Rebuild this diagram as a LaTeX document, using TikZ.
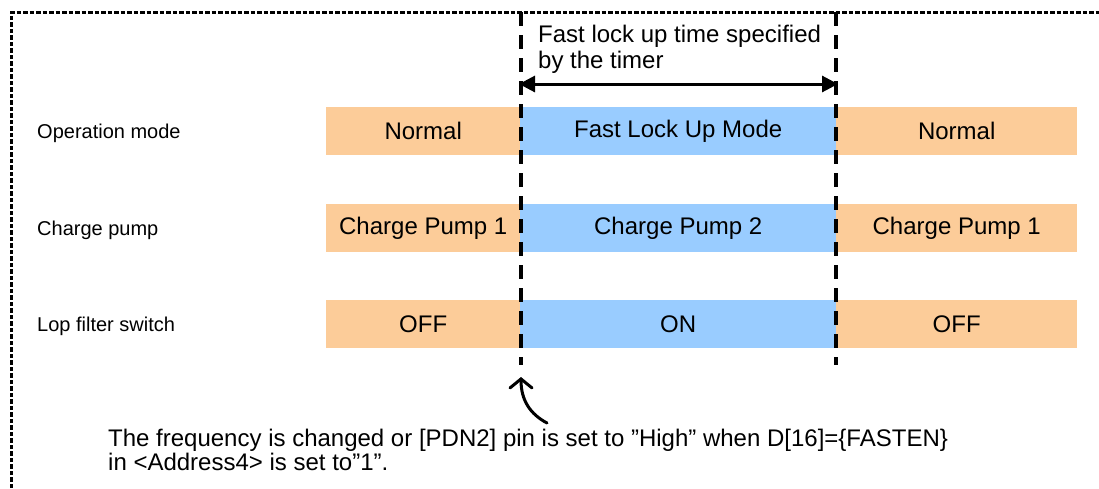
\documentclass[tikz,border=0pt]{standalone}
\usepackage{fontspec}
\setmainfont{Liberation Sans}
\usetikzlibrary{arrows.meta}
\definecolor{orangebar}{RGB}{252,204,153}
\definecolor{bluebar}{RGB}{153,204,255}
\begin{document}
\begin{tikzpicture}[x=1pt,y=-1pt,
  bar/.style={minimum height=48pt, inner sep=0pt, anchor=west, font=\fontsize{24}{26}\selectfont},
  norm/.style={bar, fill=orangebar},
  fast/.style={bar, fill=bluebar},
  rowlabel/.style={anchor=base west, inner sep=0pt, font=\fontsize{20}{23}\selectfont},
  vline/.style={line width=4pt, dash pattern=on 14pt off 9pt},
  frame/.style={line width=3pt, dash pattern=on 4.5pt off 2pt},
  note/.style={anchor=north west, inner sep=0pt, align=left, font=\fontsize{24}{26}\selectfont},
  bnote/.style={note, font=\fontsize{24}{24}\selectfont}]
\useasboundingbox (0,0) rectangle (1099,488);
% frame
\coordinate (fb) at (11.5,488);
\coordinate (fc) at (11.5,12);
\coordinate (fr) at (1099,12);
\draw[frame] (fb) -- (fc) -- (fr);
% row labels
\node[rowlabel] (l1) at (37,138) {Operation mode};
\node[rowlabel] (l2) at (37,235) {Charge pump};
\node[rowlabel] (l3) at (37,331) {Lop filter switch};
% bars row 1
\node[norm, minimum width=194pt] (r1a) at (326,131) {Normal};
\node[fast, minimum width=316pt] (r1b) at (520,131) {Fast Lock Up Mode};
\node[norm, minimum width=241pt] (r1c) at (836,131) {Normal};
% row 2
\node[norm, minimum width=194pt] (r2a) at (326,228) {Charge Pump 1};
\node[fast, minimum width=316pt] (r2b) at (520,228) {Charge Pump 2};
\node[norm, minimum width=241pt] (r2c) at (836,228) {Charge Pump 1};
% row 3
\node[norm, minimum width=194pt] (r3a) at (326,324) {OFF};
\node[fast, minimum width=316pt] (r3b) at (520,324) {ON};
\node[norm, minimum width=241pt] (r3c) at (836,324) {OFF};
% vertical dashed lines
\coordinate (t1) at (521,12);
\coordinate (b1) at (521,365);
\coordinate (t2) at (836,12);
\coordinate (b2) at (836,365);
\draw[vline] (t1) -- (b1);
\draw[vline] (t2) -- (b2);
% top text and arrow
\node[note] (top) at (538,25) {Fast lock up time specified\\by the timer};
\coordinate (a1) at (519,84);
\coordinate (a2) at (838,84);
\draw[line width=3pt, {Triangle[length=16pt,width=16pt]}-{Triangle[length=16pt,width=16pt]}] (a1) -- (a2);
% bottom note and curved arrow
\node[bnote] (bot) at (108,429) {The frequency is changed or [PDN2] pin is set to ”High” when D[16]=\{FASTEN\}\\in <Address4> is set to”1”.};
\coordinate (c0) at (547,423);
\coordinate (ct) at (521,377);
\draw[line width=3pt, line cap=round, -{Straight Barb[length=9pt,width=22pt,line cap=round]}] (c0) .. controls (530,414) and (521,400) .. (ct);
\end{tikzpicture}
\end{document}
